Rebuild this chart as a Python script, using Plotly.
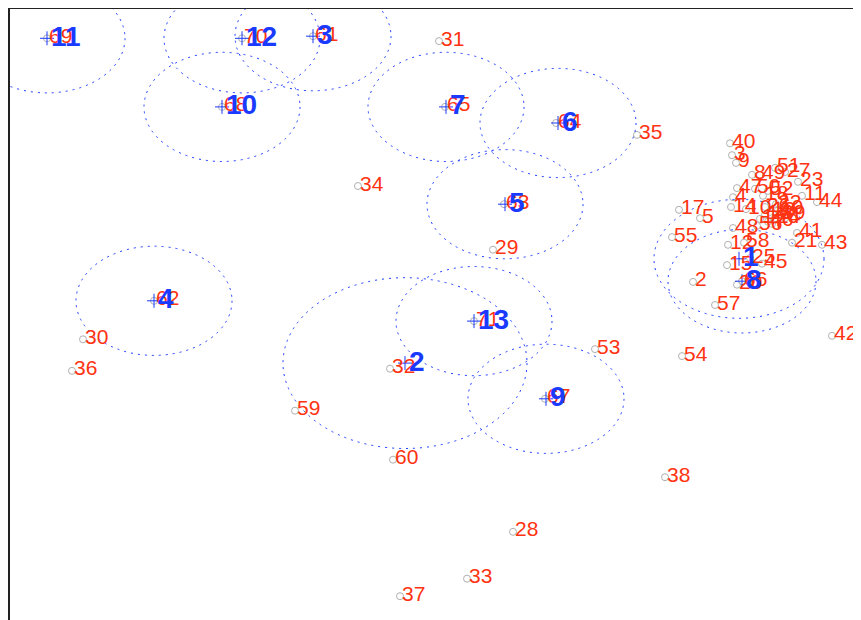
import plotly.graph_objects as go

# ---- data: observation points (label, x, y) ----
point_labels = [str(i) for i in range(1, 72)]
point_x = [7.60, 6.93, 7.32, 7.33, 7.00, 7.85, 7.72, 7.52, 7.36, 7.46,
           8.02, 7.28, 7.70, 7.31, 7.27, 7.65, 6.79, 7.63, 7.78, 7.37,
           7.92, 7.76, 7.98, 7.75, 7.50, 7.65, 7.85, 5.13, 4.93, 0.83,
           4.39, 3.90, 4.67, 3.58, 6.37, 0.72, 4.00, 6.65, 7.80, 7.30,
           7.97, 8.32, 8.22, 8.17, 7.62, 7.68, 7.37, 7.33, 7.60, 7.55,
           7.75, 7.68, 5.95, 6.82, 6.72, 7.57, 7.15, 7.44, 2.95, 3.93,
           3.13, 1.54, 5.04, 5.56, 4.45, 7.42, 5.45, 2.22, 0.47, 2.42,
           4.74]
point_y = [5.73, 4.83, 6.64, 6.04, 5.74, 5.74, 5.66, 6.36, 6.53, 5.87,
           6.06, 5.36, 5.83, 5.90, 5.07, 5.79, 5.86, 6.06, 5.86, 4.79,
           5.39, 5.94, 6.26, 5.74, 5.17, 5.90, 6.40, 1.26, 5.29, 4.01,
           8.27, 3.59, 0.59, 6.20, 6.93, 3.56, 0.34, 2.04, 5.80, 6.81,
           5.53, 4.06, 5.36, 5.97, 5.09, 5.69, 6.17, 5.60, 6.36, 6.16,
           6.46, 6.13, 3.87, 3.77, 5.47, 5.63, 4.50, 5.39, 2.99, 2.29,
           8.34, 4.56, 5.94, 7.10, 7.33, 4.84, 3.16, 7.33, 8.31, 8.31,
           4.27]

# ---- data: cluster centres and radii ----
center_labels = [str(i) for i in range(1, 14)]
center_x = [7.39, 4.05, 3.13, 1.54, 5.05, 5.58, 4.46, 7.42, 5.46, 2.22, 0.47, 2.42, 4.74]
center_y = [5.16, 3.67, 8.34, 4.56, 5.94, 7.10, 7.33, 4.84, 3.16, 7.33, 8.31, 8.31, 4.27]
center_radius = [0.85, 1.22, 0.78, 0.78, 0.78, 0.78, 0.78, 0.74, 0.78, 0.78, 0.78, 0.78, 0.78]

RED = "#ff3311"
BLUE = "#1a3aff"
FONT = "Liberation Sans, Arial, Helvetica, sans-serif"

fig = go.Figure()

fig.add_trace(go.Scatter(
    x=point_x, y=point_y, mode="markers",
    marker=dict(symbol="circle-open", size=7, color="#b0b0b0", line=dict(width=1)),
    hoverinfo="skip", showlegend=False))

fig.add_trace(go.Scatter(
    x=center_x, y=center_y, mode="markers",
    marker=dict(symbol="cross-thin-open", size=10, color=BLUE, line=dict(width=1, color=BLUE)),
    hoverinfo="skip", showlegend=False))

shapes = []
for cx, cy, r in zip(center_x, center_y, center_radius):
    shapes.append(dict(type="circle", xref="x", yref="y",
                       x0=cx - r, x1=cx + r, y0=cy - r, y1=cy + r,
                       line=dict(color=BLUE, width=1, dash="2px,5px"),
                       layer="above"))

annotations = []
for lab, x, y in zip(point_labels, point_x, point_y):
    annotations.append(dict(x=x, y=y, xref="x", yref="y", text=lab, showarrow=False,
                            xanchor="left", yanchor="middle", xshift=0, yshift=3,
                            font=dict(family=FONT, size=21, color=RED)))
for lab, x, y in zip(center_labels, center_x, center_y):
    annotations.append(dict(x=x, y=y, xref="x", yref="y", text="<b>" + lab + "</b>",
                            showarrow=False, xanchor="left", yanchor="middle",
                            xshift=2, yshift=2,
                            font=dict(family=FONT, size=28, color=BLUE)))

# the page body adds an 8 px margin, so the figure is sized to fit the window
fig.update_layout(
    width=853, height=612,
    margin=dict(l=2, r=0, t=1, b=0, pad=0),
    paper_bgcolor="white", plot_bgcolor="white",
    shapes=shapes, annotations=annotations,
    xaxis=dict(range=[0.10, 8.61], showgrid=False, zeroline=False, showticklabels=False,
               ticks="", showline=True, linecolor="#222222", linewidth=2, side="top",
               fixedrange=True),
    yaxis=dict(range=[0, 8.7286], showgrid=False, zeroline=False, showticklabels=False,
               ticks="", showline=True, linecolor="#222222", linewidth=2,
               fixedrange=True),
)

fig.write_html("out.html")
